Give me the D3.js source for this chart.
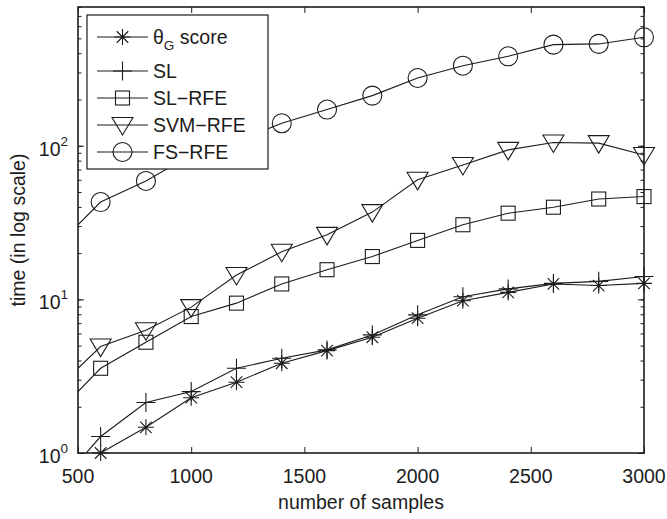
<!DOCTYPE html>
<html>
<head>
<meta charset="utf-8">
<script src="https://cdn.jsdelivr.net/npm/d3@7/dist/d3.min.js"></script>
<style>
  body { margin: 0; background: #fff; }
  svg { display: block; font-family: "Liberation Sans", Arial, sans-serif; }
</style>
</head>
<body>
<svg class="chart" width="667" height="519"></svg>
<script>
// x = number of samples; first value (500) is where the curves enter the axes, no marker there
const sampleSizes = [500, 600, 800, 1000, 1200, 1400, 1600, 1800, 2000, 2200, 2400, 2600, 2800, 3000]

const thetaG = [0.7, 1.0, 1.47, 2.29, 2.89, 3.84, 4.64, 5.67, 7.54, 9.8, 11.1, 12.6, 12.3, 12.7]
const sl = [0.87, 1.28, 2.13, 2.51, 3.56, 4.14, 4.69, 5.87, 7.93, 10.4, 11.7, 12.7, 13.1, 14.1]
const slRfe = [2.51, 3.56, 5.26, 7.73, 9.45, 12.6, 15.6, 19.0, 24.2, 30.6, 36.4, 39.8, 45, 46.7]
const svmRfe = [3.56, 4.93, 6.3, 8.9, 14.4, 20.4, 26.3, 37, 60, 75, 94, 105, 104, 87]
const fsRfe = [30.6, 43, 59, 87, 107, 140, 172, 212, 276, 332, 382, 455, 460, 508]

const seriesNames = ['score', 'SL', 'SL\u2212RFE', 'SVM\u2212RFE', 'FS\u2212RFE']
const seriesMarkers = ['asterisk', 'plus', 'square', 'triangle', 'circle']
const seriesValues = [thetaG, sl, slRfe, svmRfe, fsRfe]

const xTicks = [500, 1000, 1500, 2000, 2500, 3000]
const yDecades = [0, 1, 2]

const ink = '#1c1c1c'
let svg = d3.select('.chart')
let margin = {left: 78, right: 23, top: 7, bottom: 66}
let width = 667 - margin.left - margin.right, height = 519 - margin.top - margin.bottom

let x = d3.scaleLinear().domain([500, 3000]).range([0, width])
let y = d3.scaleLog().domain([1, 800]).range([height, 0])

svg.append('defs').append('clipPath').attr('id', 'plotClip')
  .append('rect').attr('width', width).attr('height', height)

let graph = svg.append('g').attr('transform', `translate(${margin.left},${margin.top})`)

// ticks on all four sides, pointing inward (matlab style)
let xAxisB = d3.axisBottom(x).tickValues(xTicks).tickSizeInner(-6).tickSizeOuter(0).tickFormat('')
let xAxisT = d3.axisTop(x).tickValues(xTicks).tickSizeInner(-6).tickSizeOuter(0).tickFormat('')
let minorVals = []
yDecades.forEach(d => { for (let k = 1; k < 10; k++) { let v = k * Math.pow(10, d); if (v <= 800) minorVals.push(v) } })
let yAxisL = d3.axisLeft(y).tickValues(minorVals).tickSizeInner(-3.5).tickSizeOuter(0).tickFormat('')
let yAxisR = d3.axisRight(y).tickValues(minorVals).tickSizeInner(-3.5).tickSizeOuter(0).tickFormat('')
let yMajL = d3.axisLeft(y).tickValues(yDecades.map(d => Math.pow(10, d))).tickSizeInner(-6).tickSizeOuter(0).tickFormat('')
let yMajR = d3.axisRight(y).tickValues(yDecades.map(d => Math.pow(10, d))).tickSizeInner(-6).tickSizeOuter(0).tickFormat('')

graph.append('g').attr('transform', `translate(0,${height})`).call(xAxisB)
graph.append('g').call(xAxisT)
graph.append('g').call(yAxisL)
graph.append('g').call(yMajL)
graph.append('g').attr('transform', `translate(${width},0)`).call(yAxisR)
graph.append('g').attr('transform', `translate(${width},0)`).call(yMajR)
graph.selectAll('.domain').remove()
graph.selectAll('.tick line').attr('stroke', ink).attr('stroke-width', 1)

graph.append('rect')
  .attr('width', width).attr('height', height)
  .attr('fill', 'none').attr('stroke', ink).attr('stroke-width', 1.6)

// tick labels
graph.selectAll('.xlab').data(xTicks).enter().append('text')
  .attr('x', d => x(d)).attr('y', height + 30)
  .attr('text-anchor', 'middle').attr('font-size', 19.5).attr('fill', ink)
  .text(d => d)

let ylab = graph.selectAll('.ylab').data(yDecades).enter().append('text')
  .attr('x', -10).attr('y', d => y(Math.pow(10, d)) + 10)
  .attr('text-anchor', 'end').attr('font-size', 19.5).attr('fill', ink)
ylab.append('tspan').text('10')
ylab.append('tspan').attr('dy', -10).attr('font-size', 13.5).text(d => d)

// axis titles
svg.append('text')
  .attr('x', margin.left + width / 2).attr('y', 509)
  .attr('text-anchor', 'middle').attr('font-size', 19.5).attr('fill', ink)
  .text('number of samples')
svg.append('text')
  .attr('transform', `translate(25,${margin.top + height / 2}) rotate(-90)`)
  .attr('text-anchor', 'middle').attr('font-size', 19.5).attr('fill', ink)
  .text('time (in log scale)')

function drawMarker(sel, type) {
  sel.each(function () {
    let g = d3.select(this)
    if (type === 'asterisk') {
      let r = 8, q = r * 0.72
      g.append('path').attr('d', `M${-r},0H${r}M0,${-r}V${r}M${-q},${-q}L${q},${q}M${-q},${q}L${q},${-q}`)
        .attr('stroke', ink).attr('stroke-width', 1.1).attr('fill', 'none')
    } else if (type === 'plus') {
      let r = 9.5
      g.append('path').attr('d', `M${-r},0H${r}M0,${-r}V${r}`)
        .attr('stroke', ink).attr('stroke-width', 1.1).attr('fill', 'none')
    } else if (type === 'square') {
      g.append('rect').attr('x', -7).attr('y', -7).attr('width', 14).attr('height', 14)
        .attr('stroke', ink).attr('stroke-width', 1.1).attr('fill', 'none')
    } else if (type === 'triangle') {
      g.append('path').attr('d', 'M-10.5,-7.5L10.5,-7.5L0,10Z')
        .attr('stroke', ink).attr('stroke-width', 1.1).attr('fill', 'none')
    } else {
      g.append('circle').attr('r', 9.5)
        .attr('stroke', ink).attr('stroke-width', 1.1).attr('fill', 'none')
    }
  })
}

let line = d3.line().x(d => x(d[0])).y(d => y(d[1]))
let plot = graph.append('g').attr('clip-path', 'url(#plotClip)')

seriesValues.forEach((vals, i) => {
  let pts = sampleSizes.map((s, j) => [s, vals[j]])
  plot.append('path').datum(pts).attr('d', line)
    .attr('fill', 'none').attr('stroke', ink).attr('stroke-width', 1.1)
  graph.append('g').selectAll('g').data(pts.filter(p => p[0] > 500)).enter().append('g')
    .attr('transform', d => `translate(${x(d[0])},${y(d[1])})`)
    .call(sel => drawMarker(sel, seriesMarkers[i]))
})

// legend
let legend = svg.append('g').attr('transform', 'translate(87,15)')
legend.append('rect').attr('width', 181).attr('height', 154)
  .attr('fill', '#fff').attr('stroke', ink).attr('stroke-width', 1.2)
let rowY = [22, 56, 83, 110, 137]
seriesNames.forEach((name, i) => {
  let row = legend.append('g').attr('transform', `translate(0,${rowY[i]})`)
  row.append('line').attr('x1', 10).attr('x2', 61).attr('stroke', ink).attr('stroke-width', 1.1)
  row.append('g').attr('transform', 'translate(35.5,0)').call(sel => drawMarker(sel, seriesMarkers[i]))
  let t = row.append('text').attr('x', 66).attr('y', 7).attr('font-size', 19.5).attr('fill', ink)
  if (i === 0) {
    t.append('tspan').text('\u03b8')
    t.append('tspan').attr('dy', 6).attr('font-size', 13.5).text('G')
    t.append('tspan').attr('dy', -6).text(' ' + name)
  } else {
    t.text(name)
  }
})
</script>
</body>
</html>
